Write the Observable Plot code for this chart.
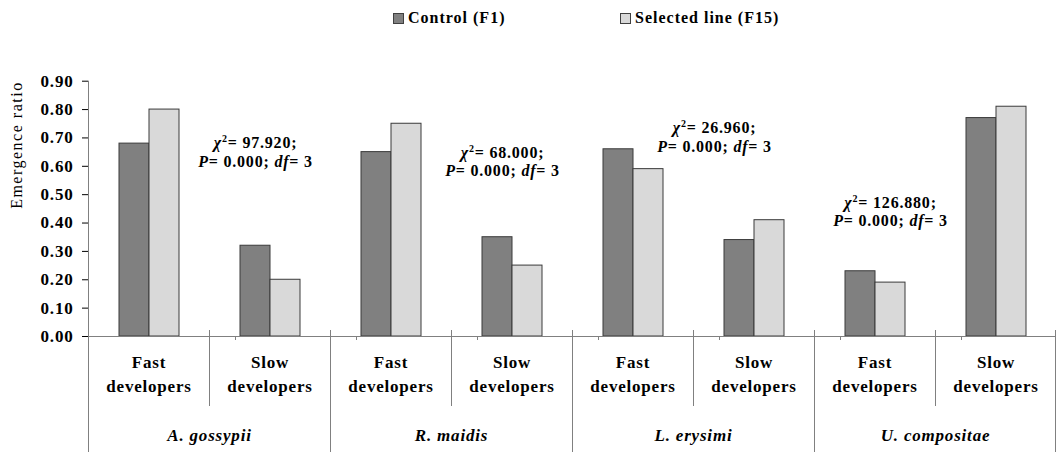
<!DOCTYPE html>
<html><head><meta charset="utf-8">
<script src="https://cdn.jsdelivr.net/npm/d3@7"></script>
<script src="https://cdn.jsdelivr.net/npm/@observablehq/plot@0.6"></script>
<style>
body{margin:0;background:#fff;width:1063px;height:452px;overflow:hidden;}
#legend{position:relative;height:36px;font-weight:bold;font-size:16px;letter-spacing:1px;color:#000;}
.item{position:absolute;top:9px;display:flex;align-items:center;white-space:nowrap;line-height:18px;}
.sw{width:9px;height:9px;border:1px solid #404040;margin-right:4px;box-sizing:content-box;}
#chart svg text{letter-spacing:0.8px;}
</style></head><body>
<div id="legend"></div><div id="chart"></div>
<script>
// ---- data ----
const species = ["A. gossypii", "R. maidis", "L. erysimi", "U. compositae"];
const classes = ["Fast developers", "Slow developers"];
const series = ["Control (F1)", "Selected line (F15)"];
const control  = [0.68, 0.32, 0.65, 0.35, 0.66, 0.34, 0.23, 0.77];
const selected = [0.80, 0.20, 0.75, 0.25, 0.59, 0.41, 0.19, 0.81];
const chi = ["97.920", "68.000", "26.960", "126.880"];
const pval = ["0.000", "0.000", "0.000", "0.000"];
const dfs = ["3", "3", "3", "3"];
const yTicks = [0, 0.1, 0.2, 0.3, 0.4, 0.5, 0.6, 0.7, 0.8, 0.9];
const colors = ["#808080", "#d9d9d9"];

// ---- pick an installed Times-like serif ----
function hasFont(name) {
  const c = document.createElement("canvas").getContext("2d");
  const s = "mmmmmmmmmmlliWW0.90 developers";
  return ["monospace", "sans-serif"].some(base => {
    c.font = "bold 40px " + base; const w0 = c.measureText(s).width;
    c.font = `bold 40px "${name}", ${base}`; const w1 = c.measureText(s).width;
    return Math.abs(w0 - w1) > 0.5;
  });
}
const candidates = ["Liberation Serif", "Tinos", "Times New Roman", "Nimbus Roman", "FreeSerif", "DejaVu Serif"];
const serif = candidates.find(hasFont) || "serif";
const FONT = `"${serif}", serif`;
document.body.style.fontFamily = FONT;

// ---- derived tables ----
const keys = species.flatMap(s => classes.map(c => s + "|" + c));
const rows = [];
keys.forEach((k, i) => {
  rows.push({key: k, series: series[0], value: control[i]});
  rows.push({key: k, series: series[1], value: selected[i]});
});
const classLabels = keys.map((k, i) => ({key: k, label: classes[i % 2].replace(" ", "\n")}));
const speciesLabels = species.map((s, i) => ({key: keys[2 * i + 1], label: s}));
// annotation anchors (layout)
const noteLayout = [
  {facet: 1, series: 0, y: 0.652, dx: 0},
  {facet: 3, series: 0, y: 0.619, dx: 5},
  {facet: 5, series: 0, y: 0.705, dx: -25},
  {facet: 6, series: 1, y: 0.441, dx: 0}
];
const notes = noteLayout.map((n, i) => ({key: keys[n.facet], series: series[n.series], y: n.y, dx: n.dx,
  text: `χ2= ${chi[i]};\nP= ${pval[i]}; df= ${dfs[i]}`}));

// ---- legend ----
const legend = d3.select("#legend");
const legendX = [393, 620];
series.forEach((s, i) => {
  const it = legend.append("div").attr("class", "item").style("left", legendX[i] + "px");
  it.append("div").attr("class", "sw").style("background", colors[i]);
  it.append("span").text(s);
});

// ---- chart ----
const W = 1063, H = 416;
const chart = Plot.plot({
  width: W, height: H,
  marginLeft: 86, marginRight: 5, marginTop: 44.7, marginBottom: 116,
  style: {fontFamily: FONT, fontSize: "17px", fontWeight: "bold", background: "white", color: "black", overflow: "visible"},
  fx: {domain: keys, padding: 0, axis: null},
  x: {domain: series, paddingInner: 0, paddingOuter: 1, axis: null},
  y: {domain: [0, 0.9], axis: null},
  color: {domain: series, range: colors},
  marks: [
    Plot.axisY({ticks: yTicks, tickFormat: d => d.toFixed(2), tickSize: 6, tickPadding: 9, label: null, fontSize: 17, fontWeight: "bold", fontFamily: FONT}),
    Plot.barY(rows, {fx: "key", x: "series", y: "value", fill: "series", stroke: "#3a3a3a", strokeWidth: 1}),
    Plot.ruleY([0], {stroke: "#808080"}),
    Plot.text(classLabels, {fx: "key", frameAnchor: "bottom", text: "label", dy: 36, lineAnchor: "middle", lineHeight: 1.4, fontSize: 17, fontWeight: "bold", fontFamily: FONT}),
    Plot.text(speciesLabels, {fx: "key", frameAnchor: "bottom-left", textAnchor: "middle", text: "label", dy: 99, lineAnchor: "middle", fontSize: 17, fontWeight: "bold", fontStyle: "italic", fontFamily: FONT}),
    Plot.text([{key: keys[0], label: "Emergence ratio"}], {fx: "key", frameAnchor: "left", text: "label", dx: -72, rotate: -90, fontSize: 16, fontWeight: "normal", fontFamily: FONT}),
    ...notes.map(n => Plot.text([n], {fx: "key", x: "series", y: "y", text: "text", dx: n.dx, lineAnchor: "middle", lineHeight: 1.15, fontSize: 16, fontWeight: "bold", fontFamily: FONT}))
  ]
});
document.getElementById("chart").appendChild(chart);

// ---- category axis separators (from Plot's scales) ----
const fx = chart.scale("fx"), xs = chart.scale("x"), ys = chart.scale("y");
const y0 = ys.apply(0), yTop = ys.apply(0.9);
const g = d3.select(chart).append("g").attr("stroke", "#808080").attr("stroke-width", 1);
keys.forEach((k, i) => {
  const x = Math.round(fx.apply(k)) + 0.5;
  g.append("line").attr("x1", x).attr("x2", x)
    .attr("y1", i === 0 ? yTop : y0 - 6)
    .attr("y2", i % 2 === 0 ? H : y0 + 70);
  const xj = Math.round(fx.apply(k) + xs.apply(series[1])) + 0.5;
  g.append("line").attr("x1", xj).attr("x2", xj).attr("y1", y0).attr("y2", y0 + 4);
});
{
  const x = Math.round(fx.apply(keys[keys.length - 1]) + fx.bandwidth) - 0.5;
  g.append("line").attr("x1", x).attr("x2", x).attr("y1", y0 - 6).attr("y2", H);
}
d3.select(chart).selectAll('[aria-label="y-axis tick"]').attr("stroke", "#808080");

// ---- rich text for annotations ----
d3.select(chart).selectAll("text").each(function() {
  const t = d3.select(this);
  if (t.text() === "Emergence ratio") t.style("letter-spacing", "1.5px");
  const spans = this.querySelectorAll("tspan");
  if (spans.length === 2 && spans[0].textContent.startsWith("χ2=")) {
    const l1 = spans[0].textContent, l2 = spans[1].textContent;
    const s1 = d3.select(spans[0]).text(""), s2 = d3.select(spans[1]).text("");
    s1.append("tspan").attr("font-style", "italic").text("χ");
    s1.append("tspan").attr("dy", -6).attr("font-size", 10).text("2");
    s1.append("tspan").attr("dy", 6).text(l1.slice(2));
    const m = l2.match(/^P(= .*; )df(= .*)$/);
    s2.append("tspan").attr("font-style", "italic").text("P");
    s2.append("tspan").text(m[1]);
    s2.append("tspan").attr("font-style", "italic").text("df");
    s2.append("tspan").text(m[2]);
  }
});
</script>
</body></html>
